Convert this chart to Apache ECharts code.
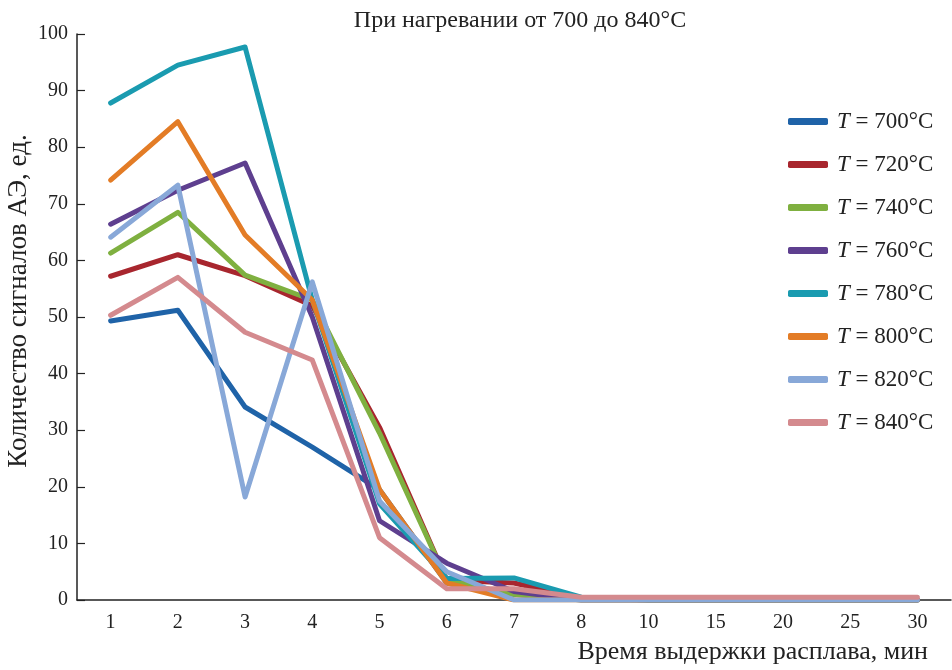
<!DOCTYPE html>
<html>
<head>
<meta charset="utf-8">
<script src="https://cdn.jsdelivr.net/npm/echarts@6/dist/echarts.min.js"></script>
<style>html,body{margin:0;padding:0;background:#fff;}#c{width:952px;height:670px;}</style>
</head>
<body>
<div id="c"></div>
<script>
const categories = ['1','2','3','4','5','6','7','8','10','15','20','25','30'];
const yTicks = [0,10,20,30,40,50,60,70,80,90,100];
const temps = ['700','720','740','760','780','800','820','840'];
const t700 = [49.3, 51.2, 34.1, 27, 19.5, 3, 1, 0, 0, 0, 0, 0, 0];
const t720 = [57.2, 61, 57.3, 52, 30.5, 3.5, 3, 0.3, 0, 0, 0, 0, 0];
const t740 = [61.3, 68.5, 57.4, 53, 29.5, 3.5, 1, 0, 0, 0, 0, 0, 0];
const t760 = [66.4, 72.4, 77.2, 50, 14, 6.5, 1.5, 0, 0, 0, 0, 0, 0];
const t780 = [87.8, 94.5, 97.7, 53, 17, 3.8, 3.9, 0.5, 0, 0, 0, 0, 0];
const t800 = [74.2, 84.5, 64.5, 53, 19.5, 3, 0, 0, 0, 0, 0, 0, 0];
const t820 = [64.1, 73.3, 18.2, 56.2, 17.5, 5, 0, 0, 0, 0, 0, 0, 0];
const t840 = [50.3, 57, 47.3, 42.4, 11, 2, 2, 0.5, 0.5, 0.5, 0.5, 0.5, 0.5];
const seriesData = [t700, t720, t740, t760, t780, t800, t820, t840];
const colors = ['#1f63a8','#a8262e','#7fb040','#5e3f8f','#1a9bb0','#e37c26','#88a8d8','#d48a8e'];

const font = 'Liberation Serif';
const chart = echarts.init(document.getElementById('c'));
chart.setOption({
  animation: false,
  color: colors,
  title: [
    { text: 'При нагревании от 700 до 840°C', left: 515, top: 4, textAlign: 'center',
      textStyle: { fontFamily: font, fontSize: 24, fontWeight: 'normal', color: '#222' } },
    { text: 'Время выдержки расплава, мин', right: 19, bottom: 0,
      textStyle: { fontFamily: font, fontSize: 26, fontWeight: 'normal', color: '#222' } }
  ],
  grid: { left: 77, right: 1, top: 34, bottom: 70, containLabel: false, outerBoundsMode: 'none' },
  legend: {
    orient: 'vertical', left: 783, top: 105, itemWidth: 40, itemHeight: 7, itemGap: 20,
    icon: 'roundRect',
    data: temps.map(t => 'T = ' + t + '°C'),
    formatter: function (name) { return '{i|T} ' + name.slice(2); },
    textStyle: { fontFamily: font, fontSize: 23, color: '#222', padding: [0,0,0,4],
      rich: { i: { fontFamily: font, fontSize: 23, fontStyle: 'italic', color: '#222' } } }
  },
  xAxis: {
    type: 'category', data: categories, boundaryGap: true,
    axisLine: { lineStyle: { color: '#222', width: 1.5 } },
    axisTick: { inside: true, length: 8, lineStyle: { color: '#222', width: 1.2 } },
    axisLabel: { fontFamily: font, fontSize: 20, color: '#222', margin: 13 },
    splitLine: { show: false }
  },
  yAxis: {
    type: 'value', min: 0, max: 100, interval: 10,
    name: 'Количество сигналов АЭ, ед.', nameLocation: 'middle', nameGap: 45, nameRotate: 90,
    nameMoveOverlap: false,
    nameTextStyle: { fontFamily: font, fontSize: 27, color: '#222', padding: [0,0,0,32] },
    axisLine: { show: true, lineStyle: { color: '#222', width: 1.5 } },
    axisTick: { show: true, inside: true, length: 8, lineStyle: { color: '#222', width: 1.2 } },
    axisLabel: { fontFamily: font, fontSize: 20, color: '#222', margin: 9,
      formatter: v => yTicks.includes(v) ? String(v) : '' },
    splitLine: { show: false }
  },
  series: seriesData.map((d, i) => ({
    name: 'T = ' + temps[i] + '°C', type: 'line', data: d,
    symbol: 'none', smooth: false,
    lineStyle: { width: 5, color: colors[i], cap: 'round', join: 'round' },
    itemStyle: { color: colors[i] }
  }))
});
</script>
</body>
</html>
